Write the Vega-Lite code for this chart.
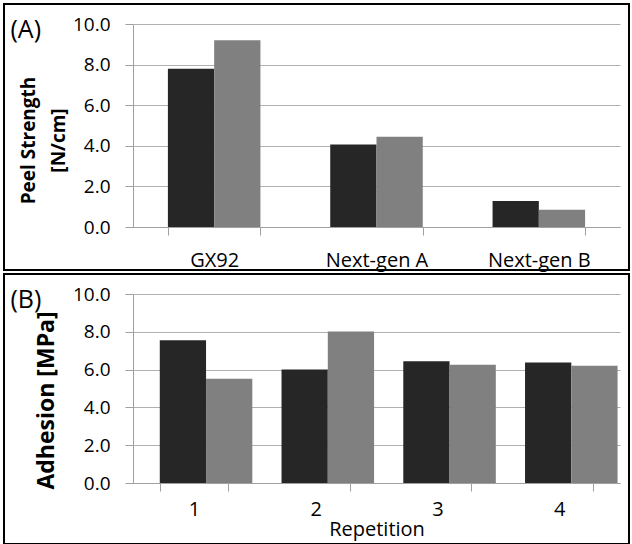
{
  "$schema": "https://vega.github.io/schema/vega-lite/v6.json",
  "padding": {"left": 3, "top": 3, "right": 0, "bottom": 0},
  "background": "white",
  "spacing": 2,
  "datasets": {
    "peel": [
      {"Material": "GX92", "Series": "Series 1", "Value": 7.8},
      {"Material": "GX92", "Series": "Series 2", "Value": 9.2},
      {"Material": "Next-gen A", "Series": "Series 1", "Value": 4.07},
      {"Material": "Next-gen A", "Series": "Series 2", "Value": 4.45},
      {"Material": "Next-gen B", "Series": "Series 1", "Value": 1.28},
      {"Material": "Next-gen B", "Series": "Series 2", "Value": 0.85}
    ],
    "adhesion": [
      {"Repetition": "1", "Series": "Series 1", "Value": 7.55},
      {"Repetition": "1", "Series": "Series 2", "Value": 5.52},
      {"Repetition": "2", "Series": "Series 1", "Value": 6.0},
      {"Repetition": "2", "Series": "Series 2", "Value": 8.02},
      {"Repetition": "3", "Series": "Series 1", "Value": 6.44},
      {"Repetition": "3", "Series": "Series 2", "Value": 6.26},
      {"Repetition": "4", "Series": "Series 1", "Value": 6.38},
      {"Repetition": "4", "Series": "Series 2", "Value": 6.2}
    ]
  },
  "vconcat": [
    {
      "width": 625,
      "height": 266,
      "data": {"name": "peel"},
      "encoding": {
        "x": {
          "field": "Material", "type": "nominal", "sort": ["GX92", "Next-gen A", "Next-gen B"],
          "scale": {"range": [129, 616], "paddingInner": 0.43, "paddingOuter": 0.215},
          "axis": {"title": null, "labelAngle": 0, "offset": -43, "tickBand": "extent", "tickSize": 8, "tickColor": "#a0a0a0", "domainColor": "#a0a0a0", "labelPadding": 15, "labelFontSize": 20, "labelColor": "#000", "grid": false}
        },
        "xOffset": {"field": "Series", "type": "nominal", "scale": {"paddingInner": 0, "paddingOuter": 0}},
        "color": {"field": "Series", "type": "nominal", "scale": {"range": ["#262626", "#808080"]}, "legend": null}
      },
      "layer": [
        {
          "mark": {"type": "bar"},
          "encoding": {
            "y": {
              "field": "Value", "type": "quantitative",
              "scale": {"domain": [0, 10], "range": [223, 20], "nice": false, "zero": true},
              "axis": {"title": ["Peel Strength", "[N/cm]"], "titleFontSize": 19, "titleFontWeight": "bold", "titleColor": "#000", "titleLineHeight": 30, "titleY": 136, "titlePadding": 4, "offset": -129, "values": [0, 2, 4, 6, 8, 10], "format": ".1f", "labelFontSize": 19, "labelColor": "#000", "labelPadding": 15, "tickSize": 8, "tickColor": "#a0a0a0", "domainColor": "#a0a0a0", "gridColor": "#b0b0b0", "grid": true}
            }
          }
        },
        {
          "mark": {"type": "bar", "opacity": 0},
          "encoding": {
            "y": {
              "field": "Value", "type": "quantitative",
              "scale": {"domain": [0, 10], "range": [223, 20], "nice": false, "zero": true},
              "axis": {"orient": "right", "offset": -625, "title": "(A)", "titleAngle": 0, "titleX": 6, "titleY": 33, "titleAlign": "left", "titleBaseline": "alphabetic", "titleFontSize": 25, "titleFontWeight": "normal", "titleColor": "#000", "labels": false, "ticks": false, "domain": false, "grid": false}
            }
          }
        }
      ],
      "resolve": {"scale": {"y": "independent"}, "axis": {"y": "independent"}}
    },
    {
      "width": 625,
      "height": 270,
      "data": {"name": "adhesion"},
      "encoding": {
        "x": {
          "field": "Repetition", "type": "nominal", "sort": ["1", "2", "3", "4"],
          "scale": {"range": [129, 616], "paddingInner": 0.44, "paddingOuter": 0.22},
          "axis": {"title": "Repetition", "titleFontSize": 20, "titleFontWeight": "normal", "titleColor": "#000", "titlePadding": 0, "labelAngle": 0, "offset": -61, "tickBand": "extent", "tickSize": 8, "tickColor": "#a0a0a0", "domainColor": "#a0a0a0", "labelPadding": 8, "labelFontSize": 20, "labelColor": "#000", "grid": false}
        },
        "xOffset": {"field": "Series", "type": "nominal", "scale": {"paddingInner": 0, "paddingOuter": 0}},
        "color": {"field": "Series", "type": "nominal", "scale": {"range": ["#262626", "#808080"]}, "legend": null}
      },
      "layer": [
        {
          "mark": {"type": "bar"},
          "encoding": {
            "y": {
              "field": "Value", "type": "quantitative",
              "scale": {"domain": [0, 10], "range": [209, 20], "nice": false, "zero": true},
              "axis": {"title": "Adhesion [MPa]", "titleFontSize": 23, "titleFontWeight": "bold", "titleColor": "#000", "titleY": 126, "titlePadding": 14, "offset": -129, "values": [0, 2, 4, 6, 8, 10], "format": ".1f", "labelFontSize": 19, "labelColor": "#000", "labelPadding": 15, "tickSize": 8, "tickColor": "#a0a0a0", "domainColor": "#a0a0a0", "gridColor": "#b0b0b0", "grid": true}
            }
          }
        },
        {
          "mark": {"type": "bar", "opacity": 0},
          "encoding": {
            "y": {
              "field": "Value", "type": "quantitative",
              "scale": {"domain": [0, 10], "range": [209, 20], "nice": false, "zero": true},
              "axis": {"orient": "right", "offset": -625, "title": "(B)", "titleAngle": 0, "titleX": 6, "titleY": 33, "titleAlign": "left", "titleBaseline": "alphabetic", "titleFontSize": 25, "titleFontWeight": "normal", "titleColor": "#000", "labels": false, "ticks": false, "domain": false, "grid": false}
            }
          }
        }
      ],
      "resolve": {"scale": {"y": "independent"}, "axis": {"y": "independent"}}
    }
  ],
  "config": {
    "font": "Open Sans",
    "axis": {"labelFont": "Open Sans", "titleFont": "Open Sans"},
    "view": {"stroke": "#000", "strokeWidth": 2}
  }
}
